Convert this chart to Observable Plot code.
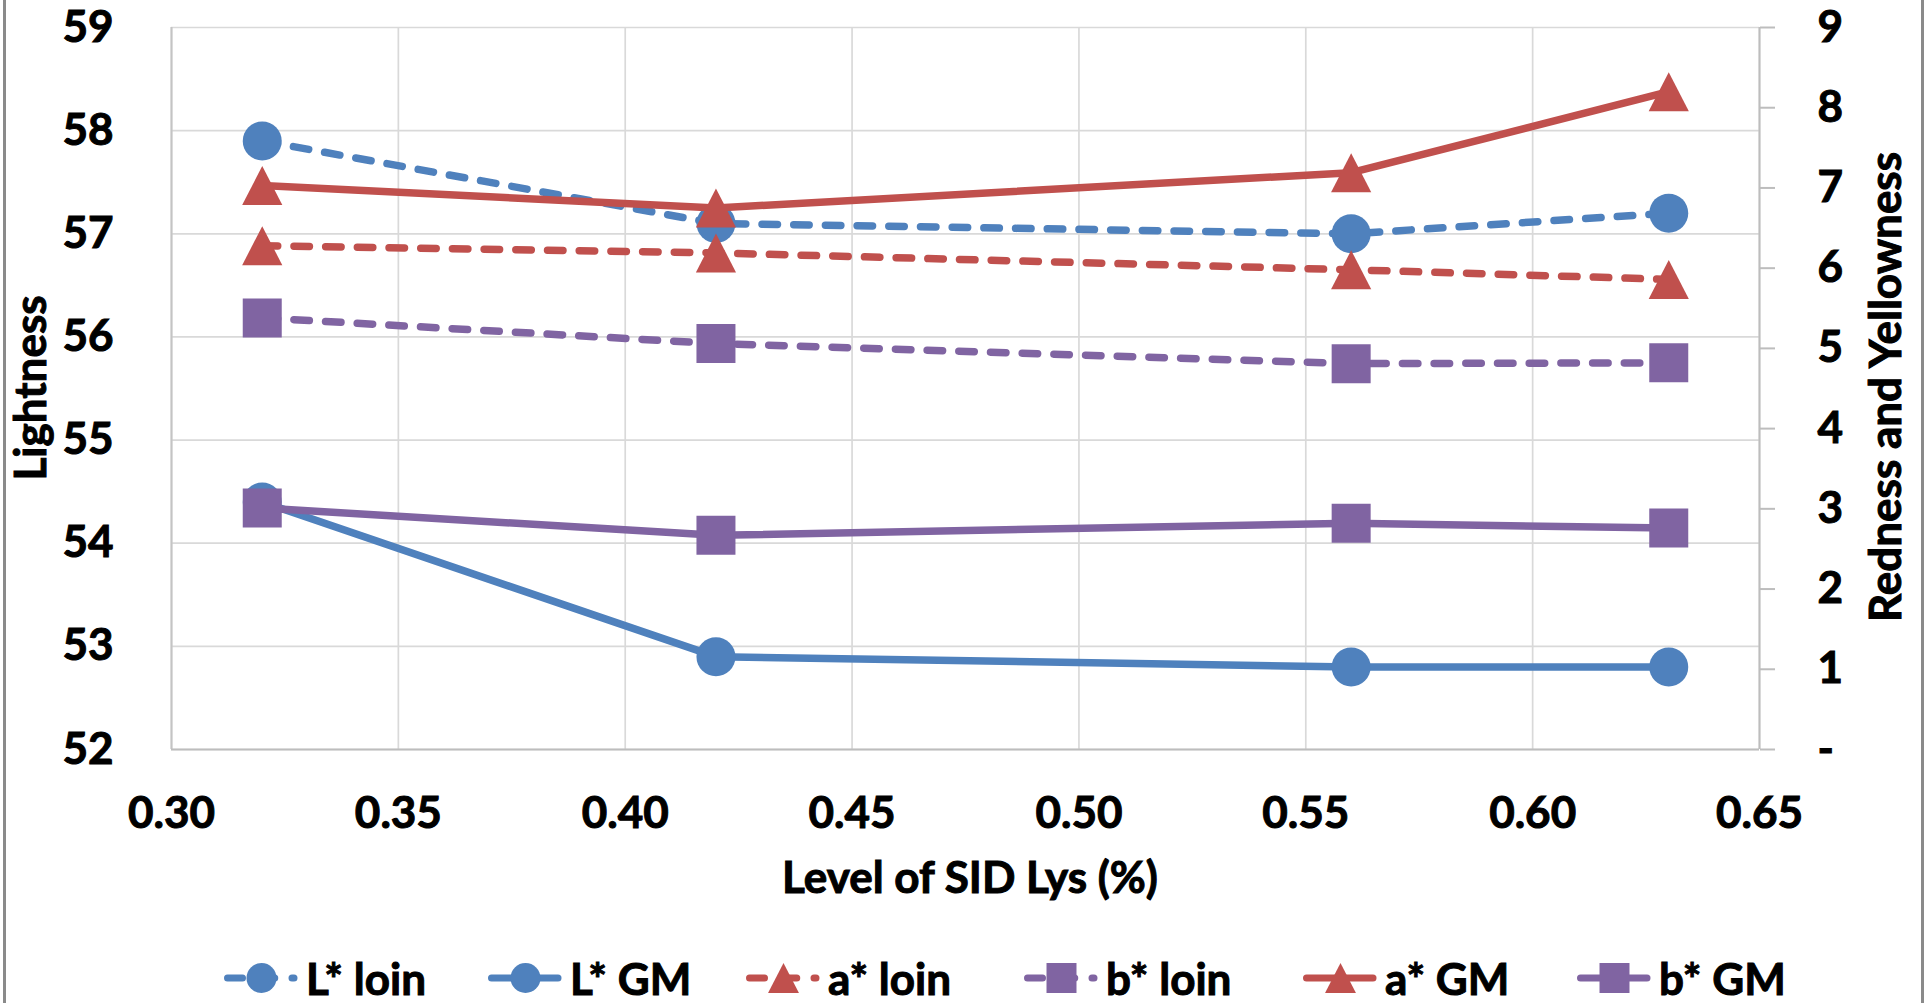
<!DOCTYPE html>
<html>
<head>
<meta charset="utf-8">
<script src="https://cdn.jsdelivr.net/npm/d3@7"></script>
<script src="https://cdn.jsdelivr.net/npm/@observablehq/plot@0.6"></script>
<style>
  html, body { margin: 0; padding: 0; background: #fff; overflow: hidden; }
  #chart { position: relative; width: 1927px; height: 1003px; font-family: Lato, sans-serif; font-weight: 700; color: #000; }
  #chart svg text { stroke: #000; stroke-width: 1px; }
  #border { position: absolute; left: 3px; top: -10px; width: 1921px; height: 1100px; border: 3px solid #8a8a8a; box-sizing: border-box; pointer-events: none; }
  #legend { position: absolute; left: 0; top: 953px; width: 1927px; height: 50px; font-size: 44px; white-space: nowrap; }
  #legend .item { position: absolute; top: 0; height: 50px; display: flex; align-items: center; gap: 8px; }
  #legend span { -webkit-text-stroke: 1px #000; }
  #legend svg { display: block; }
</style>
</head>
<body>
<div id="chart"><div id="border"></div></div>
<script>
// SID lysine level (%) on the x axis
const levels = [0.32, 0.42, 0.56, 0.63];

// Lightness (left axis)
const lLoin = [57.9, 57.1, 57.0, 57.2];
const lGM   = [54.4, 52.9, 52.8, 52.8];

// Redness and yellowness (right axis)
const aLoin = [6.28, 6.19, 5.98, 5.86];
const bLoin = [5.38, 5.06, 4.81, 4.82];
const aGM   = [7.03, 6.75, 7.19, 8.2];
const bGM   = [3.01, 2.67, 2.82, 2.76];

// Tick values
const xTicks = [0.30, 0.35, 0.40, 0.45, 0.50, 0.55, 0.60, 0.65];
const leftTicks = [52, 53, 54, 55, 56, 57, 58, 59];
const rightTicks = [0, 1, 2, 3, 4, 5, 6, 7, 8, 9];

const BLUE = "#4F81BD", RED = "#C0504D", PURPLE = "#8064A2";

// Marker shapes
const circleSym = {draw(ctx, size) { const r = Math.sqrt(size / Math.PI); ctx.moveTo(r, 0); ctx.arc(0, 0, r, 0, 2 * Math.PI); }};
const triangleSym = {draw(ctx, size) { const r = Math.sqrt(size / Math.PI); ctx.moveTo(0, -r); ctx.lineTo(r * 1.03, r); ctx.lineTo(-r * 1.03, r); ctx.closePath(); }};
const squareSym = {draw(ctx, size) { const r = Math.sqrt(size / Math.PI); ctx.rect(-r, -r, 2 * r, 2 * r); }};

// Series in drawing / legend order
const series = [
  {name: "L* loin", values: lLoin, axis: "left",  color: BLUE,   dashed: true,  symbol: circleSym},
  {name: "L* GM",   values: lGM,   axis: "left",  color: BLUE,   dashed: false, symbol: circleSym},
  {name: "a* loin", values: aLoin, axis: "right", color: RED,    dashed: true,  symbol: triangleSym},
  {name: "b* loin", values: bLoin, axis: "right", color: PURPLE, dashed: true,  symbol: squareSym},
  {name: "a* GM",   values: aGM,   axis: "right", color: RED,    dashed: false, symbol: triangleSym},
  {name: "b* GM",   values: bGM,   axis: "right", color: PURPLE, dashed: false, symbol: squareSym}
];

// Left edge of each legend entry
const legendLeft = [224, 488, 746, 1024, 1303, 1577];

// The right axis (0–9) shares the plot's vertical extent with the left axis (52–59)
const rightToLeft = d3.scaleLinear([0, 9], [52, 59]);

const W = 1927, H = 945;
const DASH = "15.5,16.2";
const FS = 44, FW = 700;

const seriesMarks = series.flatMap(s => {
  const rows = levels.map((x, i) => ({
    level: x,
    value: s.values[i],
    y: s.axis === "left" ? s.values[i] : rightToLeft(s.values[i])
  }));
  return [
    Plot.line(rows, {x: "level", y: "y", stroke: s.color, strokeWidth: 7.5,
      strokeDasharray: s.dashed ? DASH : null, strokeLinecap: s.dashed ? "round" : "butt", strokeLinejoin: "round"}),
    Plot.dot(rows, {x: "level", y: "y", symbol: s.symbol, r: 19.5, fill: s.color, stroke: "none"})
  ];
});

const textStyle = {fontSize: FS, fontWeight: FW, fontFamily: "Lato, sans-serif"};

const chart = Plot.plot({
  width: W,
  height: H,
  marginLeft: 171,
  marginRight: 168,
  marginTop: 27,
  marginBottom: H - 749,
  x: {domain: [0.30, 0.65]},
  y: {domain: [52, 59]},
  style: {fontFamily: "Lato, sans-serif", fontWeight: FW, fontSize: FS + "px", color: "#000", background: "white", overflow: "visible"},
  marks: [
    // gridlines
    Plot.ruleY(leftTicks, {stroke: "#d9d9d9", strokeWidth: 1.7}),
    Plot.ruleX(xTicks, {stroke: "#d9d9d9", strokeWidth: 1.7}),
    // plot-area edges
    Plot.ruleX([0.30], {stroke: "#c4c4c4", strokeWidth: 2}),
    Plot.ruleX([0.65], {stroke: "#bdbdbd", strokeWidth: 2}),
    Plot.ruleY([52], {stroke: "#bdbdbd", strokeWidth: 2}),
    // axes
    Plot.axisX(xTicks, {anchor: "bottom", tickSize: 0, tickPadding: 47, tickFormat: d3.format(".2f"), label: null, ...textStyle}),
    Plot.axisY(leftTicks, {anchor: "left", tickSize: 0, tickPadding: 58, tickFormat: d3.format("d"), label: null, ...textStyle}),
    Plot.axisY(rightTicks.map(rightToLeft), {
      anchor: "right", tickSize: 15, tickPadding: 43, stroke: "#bdbdbd", strokeWidth: 2, fill: "#000", label: null,
      tickFormat: d => { const v = Math.round(rightToLeft.invert(d)); return v === 0 ? "-" : String(v); },
      ...textStyle
    }),
    ...seriesMarks
  ]
});

// Axis titles
const svg = d3.select(chart);
const title = (text, transform) => svg.append("text")
  .attr("transform", transform)
  .attr("text-anchor", "middle")
  .attr("fill", "#000")
  .style("font", `${FW} ${FS}px Lato, sans-serif`)
  .text(text);
title("Lightness", "translate(46,388) rotate(-90)");
title("Redness and Yellowness", "translate(1901,387) rotate(-90)");
title("Level of SID Lys (%)", "translate(970,893)");

const root = document.getElementById("chart");
root.insertBefore(chart, root.firstChild);

// Legend below the plot
const legend = d3.select(root).append("div").attr("id", "legend");
series.forEach((s, i) => {
  const item = legend.append("div").attr("class", "item").style("left", legendLeft[i] + "px");
  const sw = item.append("svg").attr("width", 74).attr("height", 40);
  sw.append("line")
    .attr("x1", 3.5).attr("x2", 70).attr("y1", 20).attr("y2", 20)
    .attr("stroke", s.color).attr("stroke-width", 7)
    .attr("stroke-linecap", "round")
    .attr("stroke-dasharray", s.dashed ? "15,17.25" : null);
  sw.append("path")
    .attr("transform", "translate(37.5,20)")
    .attr("d", d3.symbol(s.symbol, Math.PI * 15 * 15)())
    .attr("fill", s.color);
  item.append("span").text(s.name);
});
</script>
</body>
</html>
